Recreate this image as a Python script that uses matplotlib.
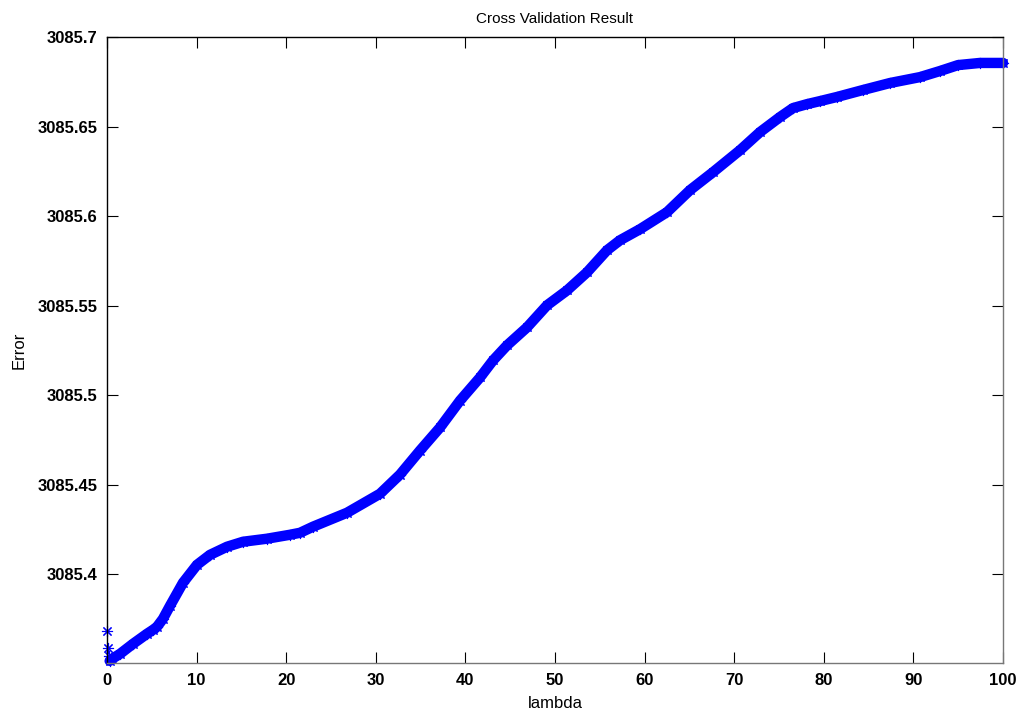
import numpy as np
import matplotlib
matplotlib.use("Agg")
import matplotlib.pyplot as plt

# values
lam = [0.0, 0.1, 0.2, 0.3, 0.56, 1.45, 2.90, 4.46, 5.13, 5.58, 6.25, 7.03,
       8.48, 10.04, 11.50, 13.39, 15.18, 17.86, 20.42, 21.54, 22.99, 26.79,
       30.47, 32.70, 34.93, 37.17, 39.40, 41.63, 43.08, 44.64, 46.88, 49.11,
       51.34, 53.57, 55.80, 57.25, 59.49, 62.50, 65.07, 67.63, 70.65, 72.88,
       75.11, 76.56, 78.13, 79.58, 81.47, 84.38, 87.39, 90.74, 92.97, 94.98,
       97.43, 100.0]
err = [3085.3685, 3085.3589, 3085.3545, 3085.3517, 3085.3528, 3085.3556,
       3085.3612, 3085.3668, 3085.3690, 3085.3707, 3085.3752, 3085.3824,
       3085.3953, 3085.4053, 3085.4109, 3085.4154, 3085.4182, 3085.4199,
       3085.4221, 3085.4232, 3085.4266, 3085.4344, 3085.4450, 3085.4557,
       3085.4691, 3085.4820, 3085.4970, 3085.5099, 3085.5194, 3085.5278,
       3085.5379, 3085.5502, 3085.5585, 3085.5686, 3085.5809, 3085.5865,
       3085.5927, 3085.6022, 3085.6145, 3085.6245, 3085.6368, 3085.6469,
       3085.6553, 3085.6603, 3085.6625, 3085.6642, 3085.6665, 3085.6704,
       3085.6743, 3085.6776, 3085.6810, 3085.6843, 3085.6855, 3085.6855]

xticks = [0, 10, 20, 30, 40, 50, 60, 70, 80, 90, 100]
yticks = [3085.4, 3085.45, 3085.5, 3085.55, 3085.6, 3085.65, 3085.7]
ytick_labels = ["3085.4", "3085.45", "3085.5", "3085.55", "3085.6", "3085.65", "3085.7"]

plt.rcParams["font.family"] = ["Liberation Sans", "DejaVu Sans"]

fig = plt.figure(figsize=(10.19, 7.15), dpi=100)
ax = fig.add_axes([0.105, 0.0727, 0.8793, 0.8756])

# thick band (dense points in original) plus asterisk markers
ax.plot(lam[3:], err[3:], "-", color="#0000ff", lw=7.5, solid_capstyle="round",
        solid_joinstyle="round", clip_on=False)
ax.plot(lam, err, linestyle="none", marker=(8, 2, 0), markersize=8,
        markeredgewidth=0.8, color="#0000ff", clip_on=False)

ax.set_xlim(0, 100)
ax.set_ylim(3085.3505, 3085.7)
ax.set_xticks(xticks)
ax.set_xticklabels([str(t) for t in xticks])
ax.set_yticks(yticks)
ax.set_yticklabels(ytick_labels)

ax.tick_params(direction="in", length=8, width=0.8, top=True, right=True,
               labelsize=12, pad=7)
for lab in ax.get_xticklabels() + ax.get_yticklabels():
    lab.set_fontweight("bold")
for s in ["left", "top"]:
    ax.spines[s].set_color("black")
for s in ["right", "bottom"]:
    ax.spines[s].set_color("#777777")
for s in ax.spines.values():
    s.set_linewidth(1.0)

ax.set_title("Cross Validation Result", fontsize=11, pad=10)
ax.set_xlabel("lambda", fontsize=12, labelpad=6)
ax.set_ylabel("Error", fontsize=12, labelpad=8)

fig.savefig("out.png", dpi=100)
